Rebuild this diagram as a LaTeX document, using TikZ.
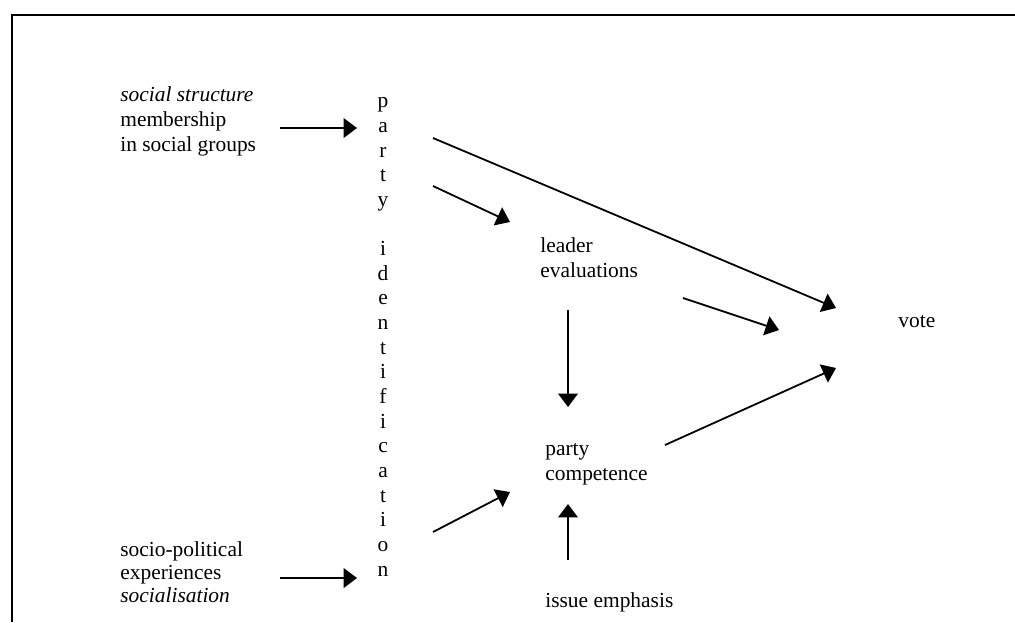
\documentclass[tikz,border=0pt]{standalone}
\usepackage{fontspec}
\setmainfont{Liberation Serif}
\usetikzlibrary{arrows.meta,calc}

\newcommand*{\picw}{1015}
\newcommand*{\pich}{622}

\begin{document}
\begin{tikzpicture}
[
	x=0.56pt, y=-0.56pt,
	font=\fontsize{12pt}{13.8pt}\selectfont,
	label/.style={inner sep=0pt,anchor=base west,align=left},
	arr/.style={-{Triangle[length=7.5pt,width=11pt]},line width=1pt}
]

	\useasboundingbox (0,0) rectangle (\picw,\pich);

	% frame
	\draw[line width=1.1pt] (12,\pich) -- (12,15) -- (\picw,15);

	% nodes (base = baseline of last line)
	\node[label] (social) at (120,151) {\textit{social structure}\\membership\\in social groups};
	\node[label,font=\fontsize{12pt}{12.7pt}\selectfont] (socio) at (120,602)
		{socio-political\\experiences\\\textit{socialisation}};
	\node[inner sep=0pt,anchor=base,align=center] (partyid) at (383,576)
		{p\\a\\r\\t\\y\\[\baselineskip]i\\d\\e\\n\\t\\i\\f\\i\\c\\a\\t\\i\\o\\n};
	\node[label] (leader) at (540,277) {leader\\evaluations};
	\node[label] (compet) at (545,480) {party\\competence};
	\node[label] (issue) at (545,607) {issue emphasis};
	\node[label] (vote) at (898,327) {vote};

	% arrows
	\draw[arr] ($(social.base west)+(160,-23)$) -- ($(partyid.base)+(-26,-448)$);
	\draw[arr] ($(socio.base west)+(160,-24)$) -- ($(partyid.base)+(-26,2)$);
	\draw[arr] ($(partyid.base)+(50,-438)$) -- ($(vote.base west)+(-62,-19)$);
	\draw[arr] ($(partyid.base)+(50,-390)$) -- ($(leader.base west)+(-30,-55)$);
	\draw[arr] ($(partyid.base)+(50,-44)$) -- ($(compet.base west)+(-35,12)$);
	\draw[arr] ($(leader.base west)+(143,21)$) -- ($(vote.base west)+(-119,3)$);
	\draw[arr] ($(leader.base west)+(28,33)$) -- ($(compet.base west)+(23,-73)$);
	\draw[arr] ($(issue.base west)+(23,-47)$) -- ($(compet.base west)+(23,24)$);
	\draw[arr] ($(compet.base west)+(120,-35)$) -- ($(vote.base west)+(-62,41)$);

\end{tikzpicture}
\end{document}
